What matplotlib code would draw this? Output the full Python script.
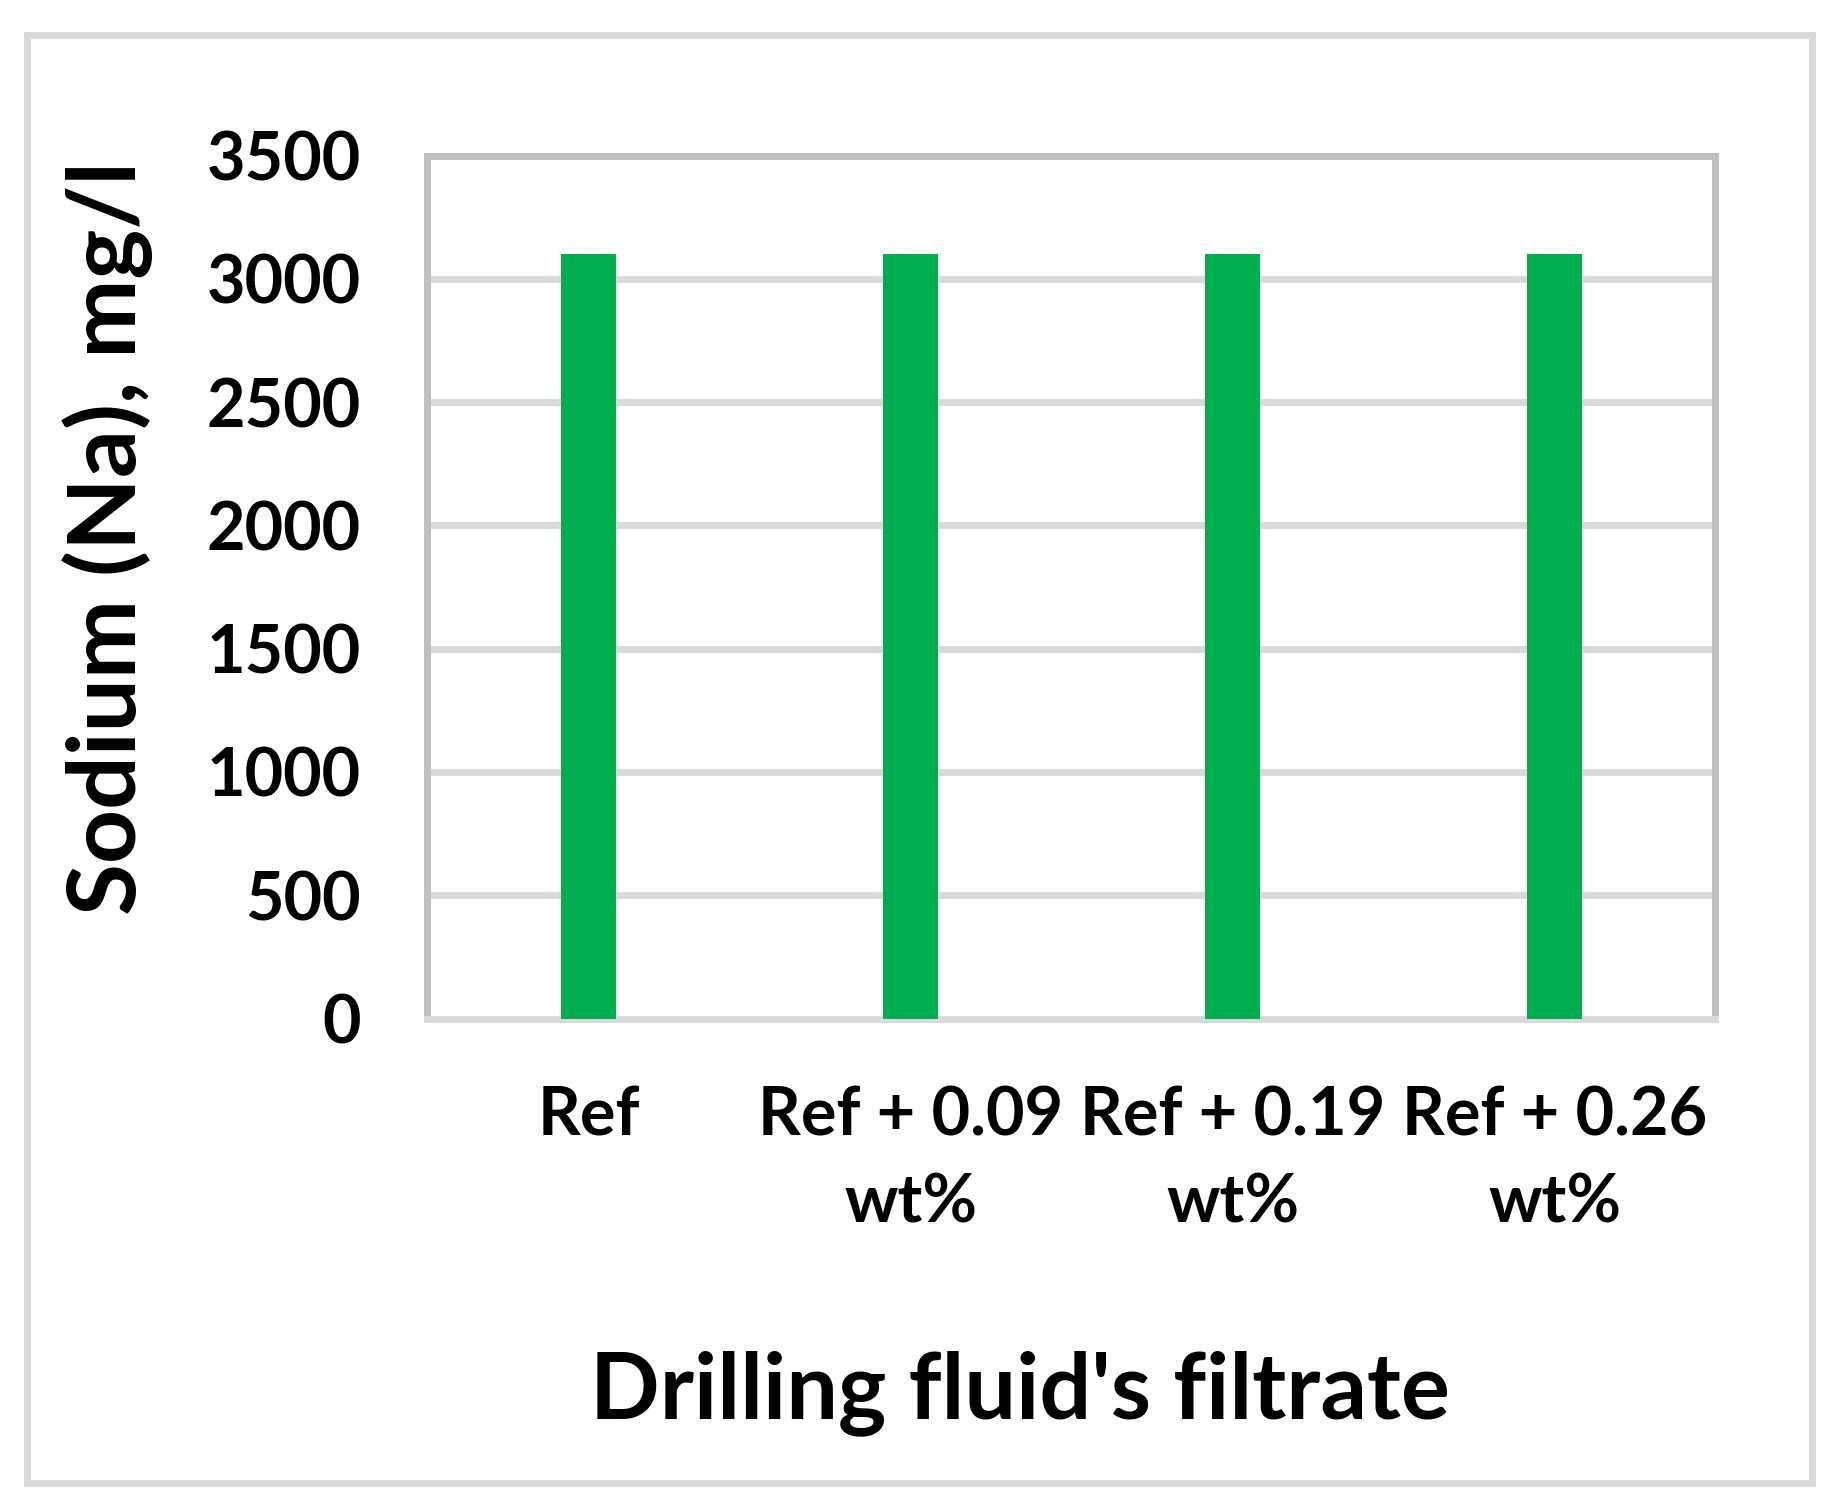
import matplotlib
matplotlib.use("Agg")
import matplotlib.pyplot as plt
from matplotlib.patches import Rectangle

# chart values
categories = ["Ref", "Ref + 0.09\nwt%", "Ref + 0.19\nwt%", "Ref + 0.26\nwt%"]
sodium = [3100, 3100, 3100, 3100]
y_ticks = [0, 500, 1000, 1500, 2000, 2500, 3000, 3500]

plt.rcParams['font.family'] = ['Lato', 'DejaVu Sans']
plt.rcParams['font.weight'] = 'bold'

W, H = 1833, 1511
fig = plt.figure(figsize=(W / 100, H / 100), dpi=100)

# outer grey border
fig.patches.append(Rectangle((27.5 / W, 1 - 1482.5 / H), (1812.5 - 27.5) / W, (1482.5 - 34.5) / H,
                             transform=fig.transFigure, fill=False, edgecolor='#D9D9D9', linewidth=5))

ax = fig.add_axes([427.5 / W, 1 - 1018.5 / H, (1715.5 - 427.5) / W, (1018.5 - 155.5) / H])
x = range(len(categories))
ax.bar(x, sodium, width=0.168, color='#00AE4F', zorder=3)

ax.set_xlim(-0.5, len(categories) - 0.5)
ax.set_ylim(0, 3500)
ax.set_yticks(y_ticks)
ax.set_yticklabels([str(v) for v in y_ticks], fontsize=48, fontweight='bold')
ax.set_xticks(list(x))
ax.set_xticklabels(categories, fontsize=48, fontweight='bold', linespacing=1.5)
ax.tick_params(axis='both', length=0)
ax.tick_params(axis='y', pad=48)
ax.tick_params(axis='x', pad=48)

ax.grid(axis='y', color='#D9D9D9', linewidth=5, zorder=0)
for side in ['left', 'top', 'right']:
    ax.spines[side].set_color('#BFBFBF')
    ax.spines[side].set_linewidth(5)
ax.spines['bottom'].set_color('#D9D9D9')
ax.spines['bottom'].set_linewidth(5)

fig.text(1020 / W, 1 - 1418 / H, "Drilling fluid's filtrate", fontsize=66, fontweight='bold',
         ha='center', va='baseline')
fig.text(108 / W, 1 - 538 / H, "Sodium (Na), mg/l", fontsize=68, fontweight='bold',
         ha='center', va='center', rotation=90)

fig.savefig("out.png", dpi=100)
